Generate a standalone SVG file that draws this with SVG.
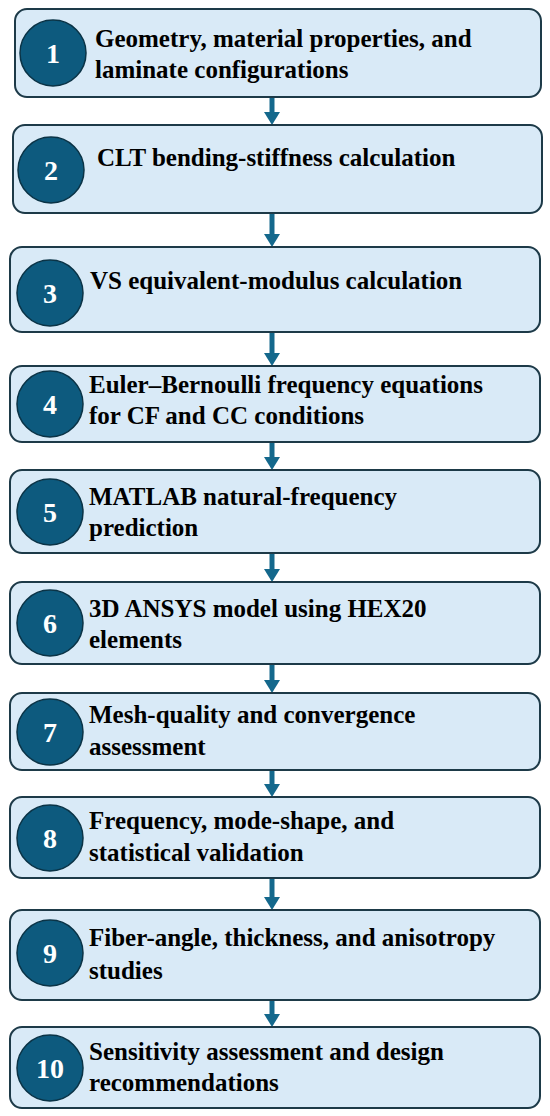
<svg xmlns="http://www.w3.org/2000/svg" width="550" height="1116" viewBox="0 0 550 1116">
<style>
.box{fill:#d9eaf7;stroke:#1d3a48;stroke-width:2}
.num{fill:#0d5a7e;stroke:#0a3346;stroke-width:1.5}
.nt{font-family:"Liberation Serif",serif;font-weight:bold;font-size:28px;fill:#ffffff;text-anchor:middle}
.t{font-family:"Liberation Serif",serif;font-weight:bold;font-size:25px;fill:#000000}
.arr{stroke:#14688c;stroke-width:5;fill:none}
.head{fill:#14688c}
</style>
<rect width="550" height="1116" fill="#ffffff"/>
<g id="connectors">
<line class="arr" x1="272" y1="97" x2="272" y2="113"/><polygon class="head" points="264,112 280,112 272,125"/>
<line class="arr" x1="272" y1="213" x2="272" y2="235"/><polygon class="head" points="264,234 280,234 272,247"/>
<line class="arr" x1="272" y1="332" x2="272" y2="354"/><polygon class="head" points="264,353 280,353 272,366"/>
<line class="arr" x1="272" y1="442" x2="272" y2="458"/><polygon class="head" points="264,457 280,457 272,470"/>
<line class="arr" x1="272" y1="553" x2="272" y2="570"/><polygon class="head" points="264,569 280,569 272,582"/>
<line class="arr" x1="272" y1="664" x2="272" y2="681"/><polygon class="head" points="264,680 280,680 272,693"/>
<line class="arr" x1="272" y1="770" x2="272" y2="785"/><polygon class="head" points="264,784 280,784 272,797"/>
<line class="arr" x1="272" y1="878" x2="272" y2="898"/><polygon class="head" points="264,897 280,897 272,910"/>
<line class="arr" x1="272" y1="1000" x2="272" y2="1015"/><polygon class="head" points="264,1014 280,1014 272,1027"/>
</g>
<g id="node1"><rect class="box" x="15" y="9" width="526" height="88" rx="12"/><circle class="num" cx="53" cy="53" r="33"/><text class="nt" x="53" y="63">1</text><text class="t" x="95" y="47">Geometry, material properties, and</text><text class="t" x="95" y="78">laminate configurations</text></g>
<g id="node2"><rect class="box" x="13" y="125" width="529" height="88" rx="12"/><circle class="num" cx="51" cy="170" r="33"/><text class="nt" x="51" y="180">2</text><text class="t" x="97" y="166">CLT bending-stiffness calculation</text></g>
<g id="node3"><rect class="box" x="10" y="247" width="530" height="85" rx="12"/><circle class="num" cx="50" cy="293" r="33"/><text class="nt" x="50" y="303">3</text><text class="t" x="90" y="289">VS equivalent-modulus calculation</text></g>
<g id="node4"><rect class="box" x="10" y="366" width="530" height="76" rx="12"/><circle class="num" cx="50" cy="404" r="33"/><text class="nt" x="50" y="414">4</text><text class="t" x="89" y="393">Euler–Bernoulli frequency equations</text><text class="t" x="89" y="424">for CF and CC conditions</text></g>
<g id="node5"><rect class="box" x="10" y="470" width="530" height="83" rx="12"/><circle class="num" cx="50" cy="512" r="33"/><text class="nt" x="50" y="522">5</text><text class="t" x="89" y="505">MATLAB natural-frequency</text><text class="t" x="89" y="536">prediction</text></g>
<g id="node6"><rect class="box" x="10" y="582" width="530" height="82" rx="12"/><circle class="num" cx="50" cy="623" r="33"/><text class="nt" x="50" y="633">6</text><text class="t" x="89" y="617">3D ANSYS model using HEX20</text><text class="t" x="89" y="648">elements</text></g>
<g id="node7"><rect class="box" x="10" y="693" width="530" height="77" rx="12"/><circle class="num" cx="50" cy="732" r="33"/><text class="nt" x="50" y="742">7</text><text class="t" x="89" y="723">Mesh-quality and convergence</text><text class="t" x="89" y="755">assessment</text></g>
<g id="node8"><rect class="box" x="10" y="797" width="530" height="81" rx="12"/><circle class="num" cx="50" cy="838" r="33"/><text class="nt" x="50" y="848">8</text><text class="t" x="89" y="829">Frequency, mode-shape, and</text><text class="t" x="89" y="861">statistical validation</text></g>
<g id="node9"><rect class="box" x="10" y="910" width="530" height="90" rx="12"/><circle class="num" cx="50" cy="953" r="33"/><text class="nt" x="50" y="963">9</text><text class="t" x="89" y="946">Fiber-angle, thickness, and anisotropy</text><text class="t" x="89" y="979">studies</text></g>
<g id="node10"><rect class="box" x="10" y="1027" width="530" height="81" rx="12"/><circle class="num" cx="50" cy="1068" r="33"/><text class="nt" x="50" y="1078">10</text><text class="t" x="89" y="1060">Sensitivity assessment and design</text><text class="t" x="89" y="1091">recommendations</text></g>
</svg>
